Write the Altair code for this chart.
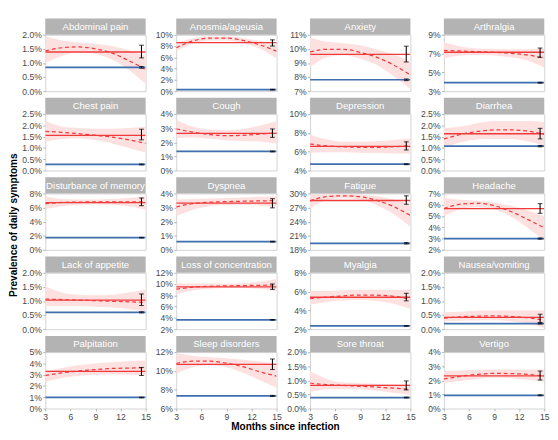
import altair as alt
import pandas as pd

SYMPTOMS = ["Abdominal pain", "Anosmia/ageusia", "Anxiety", "Arthralgia",
            "Chest pain", "Cough", "Depression", "Diarrhea",
            "Disturbance of memory", "Dyspnea", "Fatigue", "Headache",
            "Lack of appetite", "Loss of concentration", "Myalgia", "Nausea/vomiting",
            "Palpitation", "Sleep disorders", "Sore throat", "Vertigo"]

Y_MIN = [0, 0, 7, 3, 0, 0, 4, 0, 0, 0, 18, 2, 0, 2, 2, 0, 0, 6, 0, 0]
Y_MAX = [2, 10, 11, 9, 2.5, 4, 10, 2.5, 8, 4, 30, 7, 2, 12, 8, 2, 5, 12, 2, 4]
Y_STEP = [0.5, 2, 1, 2, 0.5, 1, 2, 0.5, 2, 1, 3, 1, 0.5, 2, 2, 0.5, 1, 2, 0.5, 1]

COVID_LEVEL = [1.39, 8.6, 9.61, 7.14, 1.56, 2.63, 6.57, 1.63, 6.7, 3.31,
               28.5, 5.65, 1.03, 9.49, 5.4, 0.42, 3.3, 10.69, 0.82, 2.32]
COVID_LO = [1.18, 8.0, 9.07, 6.6, 1.36, 2.35, 6.18, 1.4, 6.27, 2.98,
            27.7, 5.24, 0.84, 9.06, 5.02, 0.24, 2.93, 10.15, 0.66, 2.02]
COVID_HI = [1.63, 9.1, 10.19, 7.59, 1.83, 2.95, 7.05, 1.87, 7.36, 3.63,
            29.5, 6.1, 1.25, 10.02, 5.82, 0.53, 3.64, 11.27, 0.98, 2.66]

CONTROL_LEVEL = [0.845, 0.27, 7.81, 3.9, 0.27, 1.35, 4.67, 1.08, 1.73, 0.58,
                 19.4, 3.0, 0.6, 3.66, 2.35, 0.2, 0.98, 7.34, 0.39, 0.94]
CONTROL_LO = [0.815, 0.2, 7.75, 3.85, 0.25, 1.32, 4.62, 1.05, 1.68, 0.55,
              19.25, 2.95, 0.58, 3.6, 2.31, 0.185, 0.95, 7.28, 0.375, 0.91]
CONTROL_HI = [0.875, 0.34, 7.87, 3.95, 0.29, 1.38, 4.72, 1.11, 1.78, 0.61,
              19.55, 3.05, 0.62, 3.72, 2.39, 0.215, 1.01, 7.4, 0.405, 0.97]

CURVE_X = [3, 5, 7, 9, 11, 13, 15]
CURVE = [
    [1.43, 1.54, 1.57, 1.50, 1.35, 1.08, 0.77],
    [7.7, 8.9, 9.4, 9.4, 9.0, 8.2, 7.1],
    [9.78, 9.97, 9.97, 9.75, 9.4, 8.85, 8.15],
    [7.33, 7.27, 7.2, 7.14, 7.03, 6.85, 6.53],
    [1.74, 1.69, 1.63, 1.56, 1.48, 1.36, 1.2],
    [2.95, 2.72, 2.55, 2.47, 2.5, 2.58, 2.67],
    [6.82, 6.62, 6.52, 6.47, 6.47, 6.53, 6.63],
    [1.4, 1.6, 1.73, 1.8, 1.8, 1.75, 1.6],
    [6.55, 6.72, 6.78, 6.8, 6.8, 6.8, 6.8],
    [3.05, 3.28, 3.38, 3.42, 3.45, 3.47, 3.5],
    [28.4, 29.35, 29.5, 29.3, 28.5, 27.2, 25.3],
    [5.65, 6.05, 6.12, 5.92, 5.4, 4.7, 3.95],
    [1.07, 1.05, 1.03, 1.01, 0.99, 0.97, 0.95],
    [9.1, 9.45, 9.6, 9.68, 9.73, 9.78, 9.85],
    [5.25, 5.42, 5.55, 5.63, 5.62, 5.5, 5.2],
    [0.39, 0.44, 0.46, 0.47, 0.45, 0.41, 0.31],
    [2.93, 3.16, 3.33, 3.46, 3.55, 3.59, 3.6],
    [10.79, 11.04, 11.04, 10.82, 10.45, 9.9, 9.45],
    [0.9, 0.85, 0.82, 0.79, 0.76, 0.72, 0.68],
    [2.09, 2.28, 2.42, 2.49, 2.48, 2.42, 2.3],
]
BAND_HI = [
    [1.95, 1.80, 1.72, 1.68, 1.60, 1.45, 1.25],
    [8.5, 9.4, 9.7, 9.7, 9.4, 8.9, 8.3],
    [10.8, 10.5, 10.4, 10.25, 9.95, 9.6, 9.1],
    [8.2, 7.75, 7.55, 7.5, 7.45, 7.45, 7.55],
    [2.2, 1.95, 1.88, 1.85, 1.85, 1.88, 1.94],
    [3.6, 3.1, 2.9, 2.85, 2.95, 3.2, 3.5],
    [7.8, 7.3, 7.05, 7.05, 7.1, 7.25, 7.4],
    [1.87, 1.95, 2.1, 2.2, 2.2, 2.2, 2.15],
    [7.6, 7.2, 7.15, 7.15, 7.2, 7.35, 7.6],
    [3.57, 3.6, 3.65, 3.68, 3.72, 3.76, 3.8],
    [29.7, 29.9, 29.9, 29.8, 29.4, 28.7, 27.7],
    [6.6, 6.45, 6.35, 6.2, 5.9, 5.5, 4.97],
    [1.52, 1.3, 1.22, 1.2, 1.22, 1.3, 1.41],
    [10.1, 10.1, 10.1, 10.1, 10.2, 10.45, 10.9],
    [6.05, 6.05, 6.15, 6.2, 6.2, 6.2, 6.2],
    [0.6, 0.62, 0.65, 0.66, 0.66, 0.66, 0.66],
    [3.35, 3.6, 3.85, 4.0, 4.1, 4.2, 4.26],
    [11.9, 11.6, 11.45, 11.35, 11.2, 11.0, 10.8],
    [1.33, 1.05, 0.92, 0.9, 0.88, 0.86, 0.85],
    [2.66, 2.7, 2.75, 2.77, 2.77, 2.77, 2.77],
]
BAND_LO = [
    [1.00, 1.25, 1.38, 1.32, 1.12, 0.75, 0.25],
    [7.1, 8.4, 9.0, 9.0, 8.5, 7.5, 5.8],
    [8.7, 9.4, 9.55, 9.3, 8.85, 8.05, 7.15],
    [6.5, 6.8, 6.85, 6.8, 6.6, 6.25, 5.5],
    [1.27, 1.4, 1.42, 1.35, 1.2, 1.0, 0.8],
    [2.3, 2.35, 2.25, 2.15, 2.1, 2.05, 1.9],
    [5.9, 5.95, 5.95, 5.9, 5.85, 5.8, 5.8],
    [1.0, 1.25, 1.38, 1.4, 1.4, 1.3, 1.1],
    [5.8, 6.2, 6.4, 6.45, 6.4, 6.2, 5.7],
    [2.38, 2.85, 3.1, 3.18, 3.2, 3.15, 3.05],
    [26.8, 28.6, 29.0, 28.7, 27.5, 25.6, 22.9],
    [4.97, 5.6, 5.8, 5.6, 4.95, 3.95, 2.8],
    [0.82, 0.82, 0.82, 0.8, 0.77, 0.72, 0.62],
    [8.2, 8.85, 9.15, 9.3, 9.3, 9.15, 8.8],
    [4.6, 4.9, 5.05, 5.1, 5.0, 4.7, 4.15],
    [0.28, 0.3, 0.31, 0.32, 0.28, 0.2, 0.04],
    [2.39, 2.7, 2.9, 3.0, 3.05, 3.0, 2.93],
    [9.7, 10.4, 10.6, 10.4, 9.8, 9.0, 8.2],
    [0.59, 0.68, 0.7, 0.68, 0.63, 0.56, 0.48],
    [1.81, 1.95, 2.1, 2.2, 2.15, 2.05, 1.91],
]

X_TICKS = [3, 6, 9, 12, 15]
X_START, X_END = 3, 15
ERR_X = 14.5

W, H = 105, 59
RED = "#f23a3a"
PINK = "#fde0e0"
BLUE = "#3f6fae"
HEADER = "#b3b3b3"
FONT = "Liberation Sans"

panels = []
for i, name in enumerate(SYMPTOMS):
    bottom = (i // 4) == 4
    xscale = alt.Scale(domain=[X_START, X_END], nice=False, zero=False)
    if bottom:
        xaxis = alt.Axis(values=X_TICKS, title=None, grid=False, domain=False,
                         labelFlush=False)
    else:
        xaxis = None
    nticks = int(round((Y_MAX[i] - Y_MIN[i]) / Y_STEP[i]))
    yvals = [round(Y_MIN[i] + k * Y_STEP[i], 3) for k in range(nticks + 1)]
    fmt = ".1f" if Y_STEP[i] < 1 else ".0f"
    yaxis = alt.Axis(values=yvals, title=None, grid=False, domain=False,
                     labelExpr=f"format(datum.value, '{fmt}') + '%'")
    yscale = alt.Scale(domain=[Y_MIN[i], Y_MAX[i]], nice=False, zero=False)

    def X(field):
        return alt.X(field, type="quantitative", scale=xscale, axis=xaxis)

    def Y(field):
        return alt.Y(field, type="quantitative", scale=yscale, axis=yaxis)

    curve_df = pd.DataFrame({"month": CURVE_X, "fit": CURVE[i],
                             "lo": BAND_LO[i], "hi": BAND_HI[i]})
    level_df = pd.DataFrame({"month": [X_START, X_END],
                             "covid": [COVID_LEVEL[i]] * 2,
                             "control": [CONTROL_LEVEL[i]] * 2})
    err_df = pd.DataFrame({"month": [ERR_X, ERR_X],
                           "lo": [COVID_LO[i], CONTROL_LO[i]],
                           "hi": [COVID_HI[i], CONTROL_HI[i]]})
    head_df = pd.DataFrame({"name": [name]})

    band = alt.Chart(curve_df).mark_area(color=PINK, opacity=1, clip=True,
                                         interpolate="monotone").encode(
        x=X("month"), y=Y("lo"), y2="hi")
    red = alt.Chart(level_df).mark_line(color=RED, strokeWidth=1.4, clip=True).encode(
        x=X("month"), y=Y("covid"))
    dashed = alt.Chart(curve_df).mark_line(color=RED, strokeWidth=1.3, strokeDash=[4, 3],
                                           clip=True, interpolate="monotone").encode(
        x=X("month"), y=Y("fit"))
    blue = alt.Chart(level_df).mark_line(color=BLUE, strokeWidth=1.8, clip=True).encode(
        x=X("month"), y=Y("control"))
    bar = alt.Chart(err_df).mark_rule(color="black", strokeWidth=1.1).encode(
        x=X("month"), y=Y("lo"), y2="hi")
    cap_lo = alt.Chart(err_df).mark_tick(color="black", orient="horizontal",
                                         size=5, thickness=1.1).encode(
        x=X("month"), y=Y("lo"))
    cap_hi = alt.Chart(err_df).mark_tick(color="black", orient="horizontal",
                                         size=5, thickness=1.1).encode(
        x=X("month"), y=Y("hi"))
    head = alt.Chart(head_df).mark_rect(color=HEADER).encode(
        x=alt.value(0), x2=alt.value(W), y=alt.value(-17), y2=alt.value(0))
    head_text = alt.Chart(head_df).mark_text(color="white", fontSize=10, font=FONT,
                                             baseline="middle", align="center").encode(
        text="name:N", x=alt.value(W / 2), y=alt.value(-8))

    panel = alt.layer(band, red, dashed, blue, bar, cap_lo, cap_hi, head, head_text).properties(
        width=W, height=H)
    panels.append(panel)

grid = alt.concat(*panels, columns=4, spacing={"row": 0, "column": 3}).properties(
    title=alt.TitleParams("Months since infection", orient="bottom", anchor="middle",
                          fontSize=10.5, fontWeight="bold", font=FONT, offset=1,
                          color="black"))

chart = alt.vconcat(grid).properties(
    title=alt.TitleParams("Prevalence of daily symptoms", orient="left", anchor="middle",
                          fontSize=10.5, fontWeight="bold", font=FONT, offset=2,
                          color="black"),
    padding={"left": 1, "top": 0, "right": 0, "bottom": 0},
).configure_view(
    stroke="#d2d2d2", strokeWidth=1
).configure_axis(
    labelFont=FONT, labelFontSize=9, labelColor="#4a4a4a",
    tickColor="#b0b0b0", tickSize=2.5, labelPadding=1.5
).configure_concat(spacing=0)

chart.save("out.html", embed_options={"renderer": "svg", "actions": False})
